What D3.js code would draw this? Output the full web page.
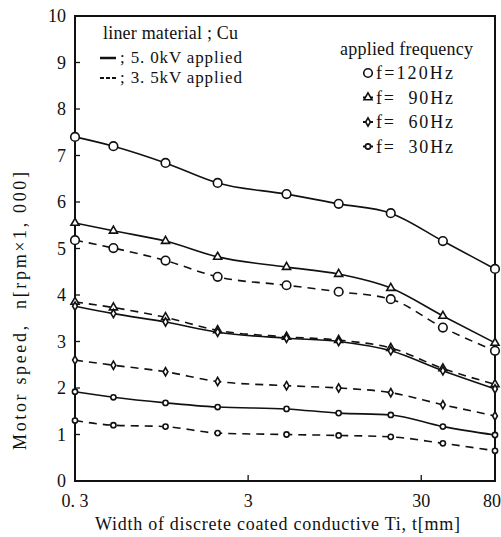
<!DOCTYPE html>
<html>
<head>
<meta charset="utf-8">
<script src="https://cdn.jsdelivr.net/npm/d3@7"></script>
<style>
  body { margin: 0; background: #fff; }
  svg text { fill: #111; }
</style>
</head>
<body>
<div id="chart"></div>
<script>
// width of the Ti coating, mm
const widths = [0.3, 0.5, 1, 2, 5, 10, 20, 40, 80];

// motor speed, rpm x 1000 ; "hi" = 5.0kV, "lo" = 3.5kV
const f120_hi = [7.4, 7.2, 6.84, 6.41, 6.17, 5.96, 5.76, 5.16, 4.56];
const f120_lo = [5.18, 5.01, 4.74, 4.39, 4.21, 4.07, 3.91, 3.3, 2.8];
const f90_hi = [5.55, 5.38, 5.16, 4.82, 4.6, 4.45, 4.15, 3.55, 2.97];
const f90_lo = [3.85, 3.73, 3.52, 3.24, 3.1, 3.03, 2.86, 2.42, 2.08];
const f60_hi = [3.76, 3.6, 3.42, 3.2, 3.07, 3.0, 2.8, 2.37, 1.98];
const f60_lo = [2.6, 2.49, 2.35, 2.14, 2.05, 2.0, 1.9, 1.64, 1.4];
const f30_hi = [1.92, 1.8, 1.68, 1.59, 1.55, 1.46, 1.42, 1.17, 0.99];
const f30_lo = [1.3, 1.2, 1.17, 1.03, 1.0, 0.98, 0.95, 0.81, 0.65];

const yTicks = [0, 1, 2, 3, 4, 5, 6, 7, 8, 9, 10];
const xTicks = [0.3, 3, 30, 80];
const xTickLabels = ["0. 3", "3", "30", "80"];
const freqLabels = ["f=120Hz", "f=  90Hz", "f=  60Hz", "f=  30Hz"];

const series = [
  { v: f120_hi, dash: false, mark: "big" },
  { v: f120_lo, dash: true, mark: "big" },
  { v: f90_hi, dash: false, mark: "tri" },
  { v: f90_lo, dash: true, mark: "tri" },
  { v: f60_hi, dash: false, mark: "dia" },
  { v: f60_lo, dash: true, mark: "dia" },
  { v: f30_hi, dash: false, mark: "small" },
  { v: f30_lo, dash: true, mark: "small" }
];

const SERIF = "'Liberation Serif', 'Times New Roman', serif";

const W = 501, H = 537;
const svg = d3.select("#chart").append("svg")
  .attr("width", W).attr("height", H);

function label(g) {
  return g.append("text").style("font-family", SERIF);
}

const x = d3.scaleLog().domain([0.3, 80]).range([75, 495]);
const y = d3.scaleLinear().domain([0, 10]).range([481, 16]);

// frame
svg.append("rect")
  .attr("x", x(0.3)).attr("y", y(10))
  .attr("width", x(80) - x(0.3)).attr("height", y(0) - y(10))
  .attr("fill", "none").attr("stroke", "#111").attr("stroke-width", 2);

// y ticks, pointing inward
yTicks.forEach(t => {
  svg.append("line")
    .attr("x1", x(0.3)).attr("x2", x(0.3) + 5)
    .attr("y1", y(t)).attr("y2", y(t))
    .attr("stroke", "#111").attr("stroke-width", 1.3);
  label(svg)
    .attr("x", 66).attr("y", y(t) + 6)
    .attr("text-anchor", "end")
    .attr("font-size", 18)
    .text(t);
});

// x ticks
xTicks.forEach((t, i) => {
  if (i > 0 && i < xTicks.length - 1) {
    svg.append("line")
      .attr("x1", x(t)).attr("x2", x(t))
      .attr("y1", y(0)).attr("y2", y(0) - 6)
      .attr("stroke", "#111").attr("stroke-width", 1.3);
  }
  const last = i === xTicks.length - 1;
  label(svg)
    .attr("x", last ? 501 : x(t)).attr("y", 507)
    .attr("text-anchor", last ? "end" : "middle")
    .attr("font-size", 18)
    .style("white-space", "pre")
    .text(xTickLabels[i]);
});

// axis titles
label(svg)
  .attr("x", 95).attr("y", 530)
  .attr("font-size", 18)
  .attr("textLength", 365)
  .text("Width of discrete coated conductive Ti, t[mm]");

label(svg)
  .attr("transform", "translate(26,450) rotate(-90)")
  .attr("font-size", 18)
  .attr("textLength", 278)
  .style("white-space", "pre")
  .text("Motor speed,  n[rpm\u00d71, 000]");

// lines
const line = d3.line()
  .x((d, i) => x(widths[i]))
  .y(d => y(d))
  .curve(d3.curveMonotoneX);

series.forEach(s => {
  svg.append("path")
    .datum(s.v)
    .attr("d", line)
    .attr("fill", "none")
    .attr("stroke", "#111")
    .attr("stroke-width", 1.6)
    .attr("stroke-dasharray", s.dash ? "8,6" : null);
});

function marker(g, type, cx, cy) {
  if (type === "big") {
    g.append("circle").attr("cx", cx).attr("cy", cy).attr("r", 4.3)
      .attr("fill", "#fff").attr("stroke", "#111").attr("stroke-width", 1.6);
  } else if (type === "small") {
    g.append("circle").attr("cx", cx).attr("cy", cy).attr("r", 2.6)
      .attr("fill", "#fff").attr("stroke", "#111").attr("stroke-width", 1.6);
  } else if (type === "tri") {
    g.append("path")
      .attr("d", d3.symbol(d3.symbolTriangle, 28)())
      .attr("transform", `translate(${cx},${cy})`)
      .attr("fill", "#fff").attr("stroke", "#111").attr("stroke-width", 1.6);
  } else {
    g.append("path")
      .attr("d", d3.symbol(d3.symbolDiamond, 20)())
      .attr("transform", `translate(${cx},${cy})`)
      .attr("fill", "#fff").attr("stroke", "#111").attr("stroke-width", 1.6);
  }
}

const marks = svg.append("g");
series.forEach(s => {
  s.v.forEach((d, i) => marker(marks, s.mark, x(widths[i]), y(d)));
});

// legend: voltage
label(svg).attr("x", 103).attr("y", 39).attr("font-size", 18)
  .attr("textLength", 135)
  .text("liner material ; Cu");
svg.append("line").attr("x1", 100).attr("x2", 116).attr("y1", 58).attr("y2", 58)
  .attr("stroke", "#111").attr("stroke-width", 2.5);
label(svg).attr("x", 120).attr("y", 63).attr("font-size", 17)
  .attr("textLength", 122)
  .text("; 5. 0kV applied");
svg.append("line").attr("x1", 100).attr("x2", 116).attr("y1", 78).attr("y2", 78)
  .attr("stroke", "#111").attr("stroke-width", 2).attr("stroke-dasharray", "4,2");
label(svg).attr("x", 120).attr("y", 83).attr("font-size", 17)
  .attr("textLength", 122)
  .text("; 3. 5kV applied");

// legend: frequency
label(svg).attr("x", 340).attr("y", 55).attr("font-size", 18)
  .attr("textLength", 133)
  .text("applied frequency");
const legMarks = ["big", "tri", "dia", "small"];
freqLabels.forEach((lab, i) => {
  const ly = 73 + i * 24.5;
  svg.append("line").attr("x1", 363).attr("x2", 373).attr("y1", ly).attr("y2", ly)
    .attr("stroke", "#111").attr("stroke-width", 2);
  marker(svg, legMarks[i], 368, ly);
  label(svg).attr("x", 376).attr("y", ly + 6).attr("font-size", 18)
    .attr("textLength", 77)
    .style("white-space", "pre")
    .text(lab);
});
</script>
</body>
</html>
